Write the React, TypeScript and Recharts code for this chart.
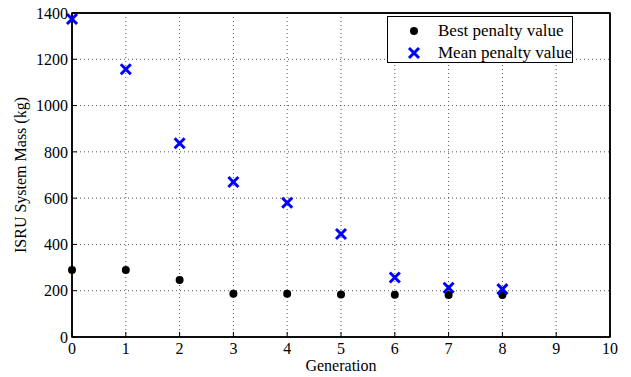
import { ScatterChart, Scatter, XAxis, YAxis, CartesianGrid, ReferenceArea } from "recharts";

const GENERATIONS = [0, 1, 2, 3, 4, 5, 6, 7, 8];
const BEST_PENALTY = [289, 289, 246, 187, 187, 184, 183, 181, 181];
const MEAN_PENALTY = [1374, 1157, 837, 670, 580, 445, 257, 213, 207];
const X_TICKS = [0, 1, 2, 3, 4, 5, 6, 7, 8, 9, 10];
const Y_TICKS = [0, 200, 400, 600, 800, 1000, 1200, 1400];
const SERIES_NAMES = ["Best penalty value", "Mean penalty value"];

const FONT = "'Liberation Serif', 'Times New Roman', serif";
const BLUE = "#0000ff";

const bestData = GENERATIONS.map((g, i) => ({ x: g, y: BEST_PENALTY[i] }));
const meanData = GENERATIONS.map((g, i) => ({ x: g, y: MEAN_PENALTY[i] }));

const Dot = (props: any) => <circle cx={props.cx} cy={props.cy} r={4} fill="#000" />;

const Cross = (props: any) => {
  const { cx, cy } = props;
  const s = 5;
  return (
    <g stroke={BLUE} strokeWidth={3}>
      <line x1={cx - s} y1={cy - s} x2={cx + s} y2={cy + s} />
      <line x1={cx - s} y1={cy + s} x2={cx + s} y2={cy - s} />
    </g>
  );
};

const tickStyle = { fill: "#000", fontSize: 16, fontFamily: FONT };
const axisLine = { stroke: "#000", strokeWidth: 1.5 };
const tickLine = { stroke: "#000", strokeWidth: 1 };

export default function App() {
  return (
    <div style={{ position: "absolute", left: 0, top: 0, width: 631, height: 377, background: "#fff" }}>
      <ScatterChart width={631} height={377} margin={{ top: 12, right: 20, bottom: 10, left: 12 }}>
        <CartesianGrid stroke="#555" strokeDasharray="1 3" />
        <XAxis
          type="number"
          dataKey="x"
          domain={[0, 10]}
          ticks={X_TICKS}
          height={30}
          tickSize={-5}
          tickMargin={11}
          tick={tickStyle}
          axisLine={axisLine}
          tickLine={tickLine}
          label={{
            content: (p: any) => (
              <text
                x={p.viewBox.x + p.viewBox.width / 2}
                y={371}
                textAnchor="middle"
                fontFamily={FONT}
                fontSize={16}
                fill="#000"
              >
                Generation
              </text>
            ),
          }}
        />
        <XAxis
          xAxisId="top"
          orientation="top"
          type="number"
          dataKey="x"
          domain={[0, 10]}
          ticks={X_TICKS}
          height={1}
          tickSize={-5}
          tick={false}
          axisLine={axisLine}
          tickLine={tickLine}
        />
        <YAxis
          type="number"
          dataKey="y"
          domain={[0, 1400]}
          ticks={Y_TICKS}
          width={60}
          tickSize={-5}
          tickMargin={9}
          tick={tickStyle}
          axisLine={axisLine}
          tickLine={tickLine}
          label={{
            content: (p: any) => {
              const x = p.viewBox.x + 8;
              const y = p.viewBox.y + p.viewBox.height / 2;
              return (
                <text
                  x={x}
                  y={y}
                  transform={`rotate(-90 ${x} ${y})`}
                  textAnchor="middle"
                  dominantBaseline="central"
                  fontFamily={FONT}
                  fontSize={16}
                  fill="#000"
                >
                  ISRU System Mass (kg)
                </text>
              );
            },
          }}
        />
        <YAxis
          yAxisId="right"
          orientation="right"
          type="number"
          dataKey="y"
          domain={[0, 1400]}
          ticks={Y_TICKS}
          width={1}
          tickSize={-5}
          tick={false}
          axisLine={axisLine}
          tickLine={tickLine}
        />
        <ReferenceArea
          x1={0}
          x2={10}
          y1={0}
          y2={1400}
          fill="none"
          fillOpacity={0}
          stroke="#000"
          strokeWidth={1.5}
          ifOverflow="visible"
        />
        <Scatter name={SERIES_NAMES[0]} data={bestData} shape={Dot} isAnimationActive={false} />
        <Scatter
          name={SERIES_NAMES[1]}
          data={meanData}
          shape={Cross}
          xAxisId="top"
          yAxisId="right"
          isAnimationActive={false}
        />
      </ScatterChart>
      <div
        style={{
          position: "absolute",
          left: 387,
          top: 16,
          width: 184,
          height: 45,
          border: "1px solid #000",
          background: "#fff",
          fontFamily: FONT,
          fontSize: 17,
          color: "#000",
        }}
      >
        {SERIES_NAMES.map((name, i) => (
          <div
            key={name}
            style={{ position: "absolute", left: 0, top: i === 0 ? 3 : 25, height: 22, display: "flex", alignItems: "center" }}
          >
            <svg width={50} height={22} style={{ display: "block" }}>
              {i === 0 ? <Dot cx={26} cy={11} /> : <Cross cx={26} cy={11} />}
            </svg>
            <span style={{ whiteSpace: "nowrap" }}>{name}</span>
          </div>
        ))}
      </div>
    </div>
  );
}
